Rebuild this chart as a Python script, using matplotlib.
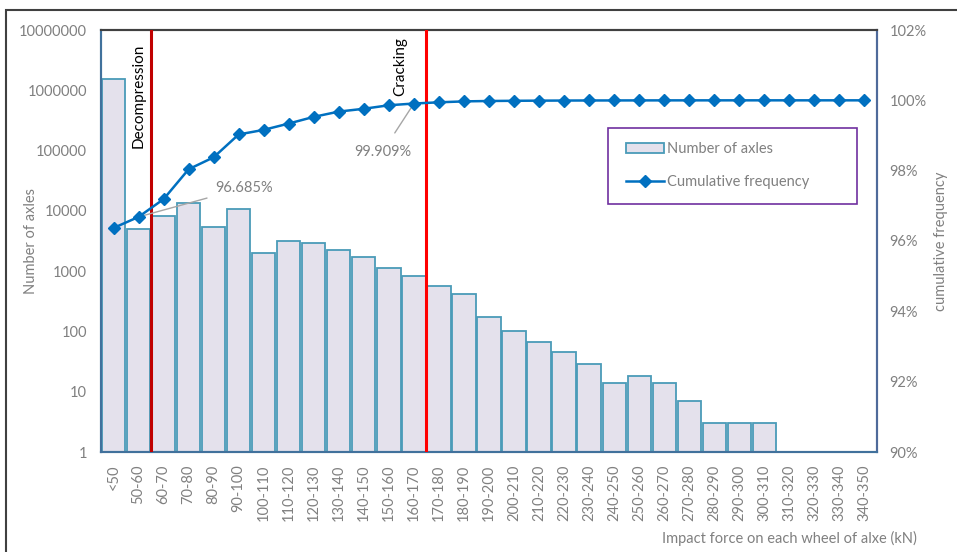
import numpy as np
import matplotlib.pyplot as plt
from matplotlib.patches import Rectangle
from matplotlib.lines import Line2D
from matplotlib.patches import Patch

plt.rcParams['font.family'] = ['Lato', 'DejaVu Sans']

# categories (kN)
categories = ['<50'] + ['%d-%d' % (a, a + 10) for a in range(50, 350, 10)]
axles = [1540000, 5000, 8200, 13500, 5400, 10700, 2000, 3150, 2900, 2250,
         1700, 1130, 830, 570, 415, 175, 102, 66, 46, 29,
         14, 18, 14, 7, 3, 3, 3, 0, 0, 0, 0]
# cumulative frequency (%)
cumfreq = [96.37, 96.685, 97.19, 98.04, 98.38, 99.03, 99.16, 99.34, 99.53, 99.68,
           99.76, 99.86, 99.909, 99.944, 99.970, 99.981, 99.987, 99.991, 99.994, 99.996,
           99.997, 99.998, 99.999, 99.9994, 99.9996, 99.9998, 100.0, 100.0, 100.0, 100.0, 100.0]

gray = '#808080'
xx = np.arange(len(categories))

fig = plt.figure(figsize=(9.57, 5.52), dpi=100)
ax = fig.add_axes([101/957, 100/552, 776/957, 422/552])
ax2 = ax.twinx()

# bars (log scale), zero values are simply not drawn
bar_vals = [v if v > 0 else np.nan for v in axles]
ax.bar(xx, bar_vals, width=0.93, color='#E4E1EC', edgecolor='#4A9BB8', linewidth=1.3,
       bottom=0, zorder=2)
ax.set_yscale('log')
ax.set_ylim(1, 1e7)
ax.set_xlim(-0.5, len(categories) - 0.5)
ax.set_yticks([10**k for k in range(8)])
ax.set_yticklabels(['%d' % 10**k for k in range(8)])
ax.minorticks_off()
ax.set_xticks(xx)
ax.set_xticklabels(categories, rotation=90)
ax.tick_params(axis='both', length=0, colors=gray, labelsize=10.5)
ax.tick_params(axis='y', pad=10)
ax.tick_params(axis='x', pad=9)
ax.set_ylabel('Number of axles', color=gray, fontsize=10.5)
ax.yaxis.set_label_coords(-0.081, 0.5)

# cumulative line
ax2.plot(xx, cumfreq, color='#0070C0', lw=1.8, marker='D', ms=6.5, zorder=5)
ax2.set_ylim(90, 102)
ax2.set_yticks(np.arange(90, 103, 2))
ax2.set_yticklabels(['%d%%' % v for v in np.arange(90, 103, 2)])
ax2.tick_params(axis='y', length=0, colors=gray, labelsize=10.5, pad=9)
ax2.set_ylabel('cumulative frequency', color=gray, fontsize=10.5)
ax2.yaxis.set_label_coords(1.073, 0.5)

# threshold lines
ax2.axvline(1.5, color='#C00000', lw=2.2, zorder=3)
ax2.axvline(12.5, color='#FF0000', lw=2.2, zorder=3)
ax2.text(1.02, 101.6, 'Decompression', rotation=90, ha='center', va='top', fontsize=11, color='black')
ax2.text(11.46, 101.8, 'Cracking', rotation=90, ha='center', va='top', fontsize=11, color='black')

# data labels
ax2.annotate('96.685%', xy=(1, cumfreq[1]), xytext=(4.06, 97.51), ha='left', va='center',
             color=gray, fontsize=10.5,
             arrowprops=dict(arrowstyle='-', color='#A6A6A6', lw=1, shrinkA=4, shrinkB=4))
ax2.annotate('99.909%', xy=(12, cumfreq[12]), xytext=(10.74, 98.53), ha='center', va='center',
             color=gray, fontsize=10.5,
             arrowprops=dict(arrowstyle='-', color='#A6A6A6', lw=1, shrinkA=8, shrinkB=4))

# spines
for a in (ax, ax2):
    a.spines['left'].set_color('#41719C')
    a.spines['bottom'].set_color('#41719C')
    a.spines['right'].set_color('#4F6A9A')
    a.spines['top'].set_color('#404040')
    for s in a.spines.values():
        s.set_linewidth(1.5)

# legend box
ax2.add_patch(Rectangle((0.653, 0.588), 0.321, 0.180, transform=ax2.transAxes,
                        fill=False, edgecolor='#7030A0', lw=1.2, zorder=6))
handles = [Patch(facecolor='#E4E1EC', edgecolor='#4A9BB8', linewidth=1.3),
           Line2D([], [], color='#0070C0', lw=1.8, marker='D', ms=6.5)]
leg = ax2.legend(handles, ['Number of axles', 'Cumulative frequency'],
                 loc='center left', bbox_to_anchor=(0.66, 0.678), frameon=False,
                 fontsize=10.5, labelspacing=1.3, handlelength=2.6, handletextpad=0.2)
for t in leg.get_texts():
    t.set_color(gray)

fig.text(917/957, 14/552, 'Impact force on each wheel of alxe (kN)', ha='right', va='center',
         color=gray, fontsize=10.5)

# outer frame
fig.patches.append(Rectangle((6/957, -0.1), 1.2, (542/552) + 0.1, transform=fig.transFigure,
                             fill=False, edgecolor='#404040', lw=1.5))

fig.savefig('out.png', dpi=100)
